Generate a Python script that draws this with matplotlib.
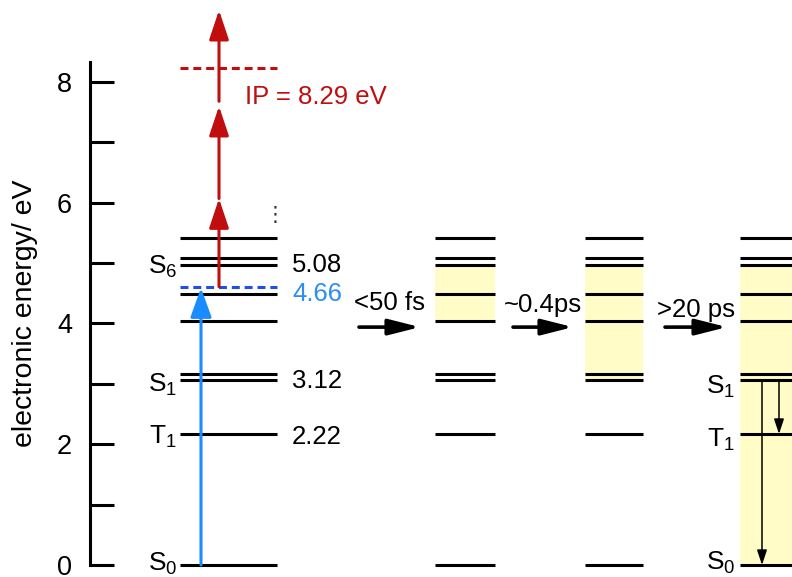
import matplotlib.pyplot as plt

plt.rcParams['font.family'] = ['Liberation Sans', 'DejaVu Sans']
plt.rcParams['mathtext.fontset'] = 'custom'
plt.rcParams['mathtext.rm'] = 'Liberation Sans'

# energy levels (eV), same set drawn in every column
levels = [0.0, 2.17, 3.06, 3.16, 4.04, 4.49, 4.97, 5.08, 5.42]
pump_level = 4.61
ip_level = 8.23
probe_arrows = [(4.61, 6.07), (6.07, 7.60), (7.68, 9.19)]
# excited band (yellow) for columns 2..4
bands = [None, (4.04, 4.97), (3.06, 4.97), (0.0, 4.97)]
time_labels = ['<50 fs', '~0.4ps', '>20 ps']
decays = [(3.06, 0.0), (3.06, 2.17)]

# state labels: (text, y)
states_left = [(r'S$_\mathregular{6}$', 4.94), (r'S$_\mathregular{1}$', 2.98),
               (r'T$_\mathregular{1}$', 2.12), (r'S$_\mathregular{0}$', 0.02)]
states_right = [(r'S$_\mathregular{1}$', 2.95), (r'T$_\mathregular{1}$', 2.07),
                (r'S$_\mathregular{0}$', 0.03)]
values = [('5.08', 4.97, 'black'), ('4.66', 4.49, '#2b8ef0'),
          ('3.12', 3.05, 'black'), ('2.22', 2.12, 'black')]

red = '#c00d0d'
blue = '#1a8cff'
yellow = '#fffcc8'

cols_x = [(180, 277), (435, 495), (585, 643), (740, 800)]

fig = plt.figure(figsize=(7.92, 5.77), dpi=100)
ax = fig.add_axes([0, 0, 1, 1])
ax.set_xlim(0, 792)
ax.set_ylim(-0.199, 9.358)

for s in ['top', 'right', 'bottom']:
    ax.spines[s].set_visible(False)
ax.spines['left'].set_position(('data', 90))
ax.spines['left'].set_bounds(0, 8.33)
ax.spines['left'].set_linewidth(2.2)
ax.set_xticks([])
ax.set_yticks([0, 2, 4, 6, 8])
ax.set_yticks([1, 3, 5, 7], minor=True)
ax.tick_params(axis='y', which='both', direction='in', length=17, width=2.2,
               pad=13, labelsize=19.5)
ax.text(25, 4.17, 'electronic energy/ eV', rotation=90, ha='center',
        va='center', fontsize=20.5)

# columns of levels + yellow bands
for (x0, x1), band in zip(cols_x, bands):
    if band is not None:
        ax.fill_between([x0, x1], band[0], band[1], color=yellow, lw=0, zorder=0)
    ax.hlines(levels, x0, x1, color='black', lw=2.2, zorder=2)

# pump / ionisation thresholds
ax.hlines(pump_level, 180, 277, color='#1e50e6', lw=2.2, linestyles=(0, (2.6, 1.6)), zorder=3)
ax.hlines(ip_level, 180, 277, color=red, lw=2.2, linestyles=(0, (2.6, 1.6)), zorder=3)

# pump arrow
ax.annotate('', xy=(201, pump_level - 0.02), xytext=(201, 0.0),
            arrowprops=dict(arrowstyle='-|>,head_length=18,head_width=6.5',
                            mutation_scale=1, color=blue, lw=2.2,
                            shrinkA=0, shrinkB=0), zorder=4)
# probe arrows
for y0, y1 in probe_arrows:
    ax.annotate('', xy=(219, y1), xytext=(219, y0),
                arrowprops=dict(arrowstyle='-|>,head_length=18,head_width=6',
                                mutation_scale=1, color=red, lw=2.2,
                                shrinkA=0, shrinkB=0), zorder=4)

ax.text(245, 7.75, 'IP = 8.29 eV', color=red, fontsize=18.5, ha='left', va='center')
ax.text(275, 5.8, '\u22ee', fontsize=15, ha='center', va='center',
        family='DejaVu Sans', color='#333333')

for txt, y in states_left:
    ax.text(177, y, txt, fontsize=19, ha='right', va='center')
for txt, y in states_right:
    ax.text(735, y, txt, fontsize=19, ha='right', va='center')
for txt, y, c in values:
    ax.text(292, y, txt, fontsize=18.5, ha='left', va='center', color=c)

# time steps
step_x = [(359, 420), (513, 573), (665, 727)]
label_y = [4.34, 4.30, 4.22]
for (x0, x1), lab, ly in zip(step_x, time_labels, label_y):
    ax.annotate('', xy=(x1, 3.94), xytext=(x0, 3.94),
                arrowprops=dict(arrowstyle='-|>,head_length=19,head_width=4.8',
                                mutation_scale=1, color='black', lw=2.6,
                                shrinkA=0, shrinkB=0), zorder=4)
    ax.text((x0 + x1) / 2, ly, lab, fontsize=18.5, ha='center', va='center')

# relaxation arrows in last column
for (y0, y1), x in zip(decays, [762, 779]):
    ax.annotate('', xy=(x, y1), xytext=(x, y0),
                arrowprops=dict(arrowstyle='-|>,head_length=9,head_width=3',
                                mutation_scale=1, color='black', lw=1.1,
                                shrinkA=0, shrinkB=0), zorder=4)

fig.savefig('out.png', dpi=100)
